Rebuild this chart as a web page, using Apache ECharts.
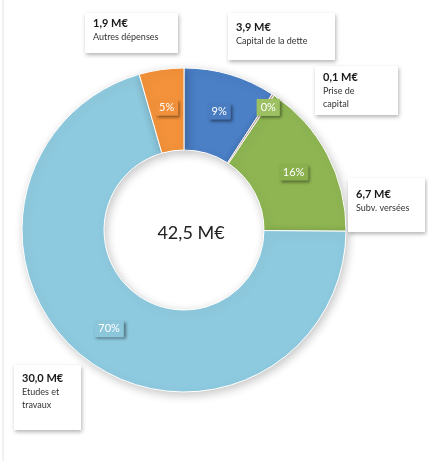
<!DOCTYPE html>
<html>
<head>
<meta charset="utf-8">
<script src="https://cdn.jsdelivr.net/npm/echarts@6/dist/echarts.min.js"></script>
<style>
  html,body{margin:0;padding:0;background:#fff;}
  #chart{width:428px;height:461px;}
</style>
</head>
<body>
<div id="chart"></div>
<script>
  // data, clockwise from 12 o'clock
  var names=['Capital de la dette','Prise de\ncapital','Subv. versées','Etudes et\ntravaux','Autres dépenses']
  var values=[3.9,0.1,6.7,30.0,1.9]
  var colors=['#4b7fc6','#c9a4a2','#8eb552','#8ecadf','#f3923a']
  var pctBg=['#4a7cc2','#9cc062','#8ab04e','#8cc6da','#f0903a']
  var totalText='42,5 M€'

  // callout boxes (top-left, width of text area, padding top/bottom)
  var boxes=[
    {x:228,y:13,w:91,pt:7,pb:12},
    {x:315,y:66,w:67,pt:4,pb:4},
    {x:348,y:178,w:61,pt:9,pb:17},
    {x:14,y:365,w:51,pt:6,pb:18},
    {x:85,y:13,w:77,pt:3,pb:9}
  ]
  // nudge for crowded percent labels
  var pctShift=[[0,0],[16,-19],[0,0],[0,0],[0,0]]

  var fmt=function (v) {
    return v.toFixed(1).replace('.',',')+' M€'
  }

  var center=[184,230]
  var radius=[80,162]

  var mainData=[]
  var calloutData=[]
  names.forEach(function (n,i) {
    mainData.push({
      name:n,value:values[i],
      itemStyle:{color:colors[i]},
      label:{backgroundColor:pctBg[i]}
    })
    var b=boxes[i]
    calloutData.push({
      name:n,value:values[i],
      label:{width:b.w,padding:[b.pt,8,b.pb,8]}
    })
  })

  var chart=echarts.init(document.getElementById('chart'))
  var option={
    backgroundColor:'#fff',
    animation:false,
    textStyle:{fontFamily:'Lato'},
    title:{
      text:totalText,
      left:center[0]+2,
      top:center[1]-11,
      textAlign:'center',
      textStyle:{fontFamily:'Lato',fontSize:18,fontWeight:'normal',color:'#222'}
    },
    graphic:[{
      type:'line',
      shape:{x1:3,y1:0,x2:3,y2:461},
      style:{stroke:'#e2e2e2',lineWidth:1}
    }],
    series:[
      {
        type:'pie',
        center:center,
        radius:radius,
        startAngle:90,
        clockwise:true,
        percentPrecision:0,
        avoidLabelOverlap:false,
        silent:true,
        itemStyle:{
          borderColor:'#fff',
          borderWidth:1,
          shadowBlur:10,
          shadowColor:'rgba(0,0,0,0.22)',
          shadowOffsetX:2,
          shadowOffsetY:3
        },
        label:{
          position:'inside',
          formatter:'{d}%',
          color:'#fff',
          fontFamily:'Lato',
          fontSize:11,
          padding:[3,4,3,4],
          shadowColor:'rgba(0,0,0,0.45)',
          shadowBlur:3,
          shadowOffsetX:2,
          shadowOffsetY:2
        },
        labelLine:{show:false},
        labelLayout:function (p) {
          var s=pctShift[p.dataIndex]
          return {dx:s[0],dy:s[1]}
        },
        data:mainData
      },
      {
        type:'pie',
        center:center,
        radius:radius,
        startAngle:90,
        clockwise:true,
        avoidLabelOverlap:false,
        silent:true,
        itemStyle:{color:'rgba(0,0,0,0)'},
        label:{
          position:'outside',
          formatter:function (p) {
            return '{v|'+fmt(p.value)+'}\n{n|'+p.name.split('\n').join('}\n{n|')+'}'
          },
          backgroundColor:'#fff',
          shadowColor:'rgba(0,0,0,0.3)',
          shadowBlur:4,
          shadowOffsetX:1,
          shadowOffsetY:2,
          rich:{
            v:{fontFamily:'Lato',fontSize:11,fontWeight:'bold',color:'#1a1a1a',lineHeight:15},
            n:{fontFamily:'Lato',fontSize:9,color:'#333',lineHeight:13}
          }
        },
        labelLine:{show:false},
        labelLayout:function (p) {
          var b=boxes[p.dataIndex]
          return {x:b.x,y:b.y,align:'left',verticalAlign:'top'}
        },
        data:calloutData
      }
    ]
  }
  chart.setOption(option)
</script>
</body>
</html>
